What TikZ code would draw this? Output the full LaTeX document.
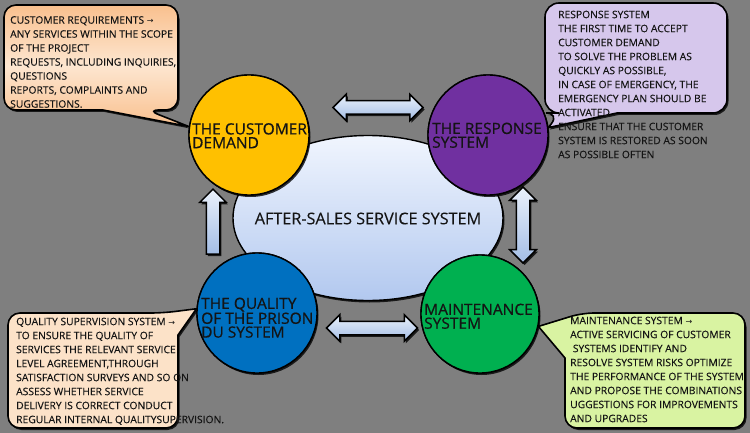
\documentclass[tikz,border=0pt]{standalone}
\usepackage{fontspec}
\setmainfont{Open Sans}
\newfontfamily\ballfont[FakeBold=0.6]{Open Sans}
\newfontfamily\notefont[FakeBold=0.15]{Open Sans}
\newfontfamily\arrfont{DejaVu Sans}
\usetikzlibrary{shapes.geometric,shapes.arrows,shadows}
\definecolor{bg}{HTML}{7F7F7F}
\definecolor{cyel}{HTML}{FFC000}
\definecolor{cpur}{HTML}{7030A0}
\definecolor{cblu}{HTML}{0070C0}
\definecolor{cgrn}{HTML}{00B050}
\definecolor{peachA}{HTML}{F9C08E}
\definecolor{peachB}{HTML}{FDE6D0}
\definecolor{peachC}{HTML}{FCE2C8}
\definecolor{lav}{HTML}{D6C7EC}
\definecolor{lime}{HTML}{D9F3A2}
\definecolor{coreT}{HTML}{F0F5FE}
\definecolor{coreB}{HTML}{B2C8EF}
\definecolor{arrT}{HTML}{EAF1FB}
\definecolor{arrB}{HTML}{A3BDE5}
\definecolor{ink}{HTML}{141414}
\newcommand{\rarr}{{\arrfont\fontsize{8}{14}\selectfont →}}
\newcommand{\shaftbox}{\rule{0pt}{12pt}\hspace{12pt}}
\begin{document}
\begin{tikzpicture}[x=1pt,y=-1pt,
  shade/.style={drop shadow={shadow xshift=1.5pt,shadow yshift=-2pt,opacity=0.8,fill=black}},
  bubble/.style={draw=black,line width=1.6pt,shade},
  ball/.style={circle,draw=black,line width=1.4pt,minimum size=120pt,inner sep=0pt,shade},
  balltop/.style={circle,draw=black,line width=1.4pt,minimum size=120pt,inner sep=0pt},
  balltext/.style={anchor=north west,align=left,inner sep=0pt,font=\ballfont\fontsize{15.5}{13.8}\selectfont,text=ink},
  note/.style={anchor=north west,align=left,inner sep=0pt,font=\notefont\fontsize{10.3}{14}\selectfont,text=ink},
  blockarrow/.style={draw=black,line width=1.5pt,top color=arrT,bottom color=arrB,inner sep=0pt,shade}
]
\useasboundingbox (0,0) rectangle (750,433);
\fill[bg] (0,0) rectangle (750,433);

% central ellipse
\node[ellipse,draw=black,line width=1.4pt,minimum width=270pt,minimum height=165pt,top color=coreT,bottom color=coreB,shade] (core) at (368,218) {};
\node[font=\notefont\fontsize{16.2}{18}\selectfont,text=ink] (coretext) at (368,218.5) {AFTER-SALES SERVICE SYSTEM};

% circles (with shadows)
\node[ball,fill=cyel] (cust) at (249,135) {};
\node[ball,fill=cpur] (resp) at (488,135) {};
\node[ball,fill=cblu] (qual) at (257,313) {};
\node[ball,fill=cgrn,minimum size=118pt] (maint) at (480,314) {};

% callouts
\path[bubble,top color=peachA,bottom color=peachA,middle color=peachB]
  (103,110) [rounded corners=12pt] -- (4,110) -- (4,5) -- (178,5) -- (178,110) -- (147,110) [sharp corners] -- (cust.172) -- cycle;
\path[bubble,fill=lav]
  (617,113) [rounded corners=14pt] -- (727,113) -- (727,3) -- (545,3) -- (545,113) -- (560,113) [sharp corners] -- (resp.7) -- cycle;
\path[bubble,fill=peachC]
  (178,335) [rounded corners=12pt] -- (178,428) -- (8,428) -- (8,313) -- (163,313) [sharp corners] -- (qual.176) -- cycle;
\path[bubble,fill=lime]
  (565,358) [rounded corners=12pt] -- (565,428) -- (745,428) -- (745,313) -- (582,313) [sharp corners] -- (maint.-12) -- cycle;

% circles again, over the tails
\node[balltop,fill=cyel] (custtop) at (cust) {};
\node[balltop,fill=cpur] (resptop) at (resp) {};
\node[balltop,fill=cblu] (qualtop) at (qual) {};
\node[balltop,fill=cgrn,minimum size=118pt] (mainttop) at (maint) {};

% block arrows
\node[blockarrow,double arrow,minimum height=90pt,double arrow head extend=6.5pt] (a1) at (378,107.5) {\shaftbox};
\node[blockarrow,double arrow,minimum height=91pt,double arrow head extend=6.5pt] (a2) at (372,328) {\shaftbox};
\node[blockarrow,double arrow,rotate=90,minimum height=76pt,double arrow head extend=6.5pt] (a3) at (523,225) {\shaftbox};
\node[blockarrow,single arrow,rotate=90,minimum height=65pt,single arrow head extend=6.5pt] (a4) at (213,225) {\shaftbox};

% circle texts
\node[balltext] (t1) at (192,123) {THE CUSTOMER\\DEMAND};
\node[balltext] (t2) at (432,122.5) {THE RESPONSE\\SYSTEM};
\node[balltext] (t3) at (201,297.5) {THE QUALITY\\OF THE PRISON\\DU SYSTEM};
\node[balltext] (t4) at (424,303.5) {MAINTENANCE\\SYSTEM};

% callout texts
\node[note] (n1) at (10,16) {CUSTOMER REQUIREMENTS \rarr\\ANY SERVICES WITHIN THE SCOPE\\OF THE PROJECT\\REQUESTS, INCLUDING INQUIRIES,\\QUESTIONS\\REPORTS, COMPLAINTS AND\\SUGGESTIONS.};
\node[note] (n2) at (558,10.5) {RESPONSE SYSTEM\\THE FIRST TIME TO ACCEPT\\CUSTOMER DEMAND\\TO SOLVE THE PROBLEM AS\\QUICKLY AS POSSIBLE,\\IN CASE OF EMERGENCY, THE\\EMERGENCY PLAN SHOULD BE\\ACTIVATED.\\ENSURE THAT THE CUSTOMER\\SYSTEM IS RESTORED AS SOON\\AS POSSIBLE OFTEN};
\node[note] (n3) at (16,317.5) {QUALITY SUPERVISION SYSTEM \rarr\\TO ENSURE THE QUALITY OF\\SERVICES THE RELEVANT SERVICE\\LEVEL AGREEMENT,THROUGH\\SATISFACTION SURVEYS AND SO ON\\ASSESS WHETHER SERVICE\\DELIVERY IS CORRECT CONDUCT\\REGULAR INTERNAL QUALITYSUPERVISION.};
\node[note] (n4) at (570,316.5) {MAINTENANCE SYSTEM \rarr\\ACTIVE SERVICING OF CUSTOMER\\\ SYSTEMS IDENTIFY AND\\RESOLVE SYSTEM RISKS OPTIMIZE\\THE PERFORMANCE OF THE SYSTEM\\AND PROPOSE THE COMBINATIONS\\UGGESTIONS FOR IMPROVEMENTS\\AND UPGRADES};
\end{tikzpicture}
\end{document}
